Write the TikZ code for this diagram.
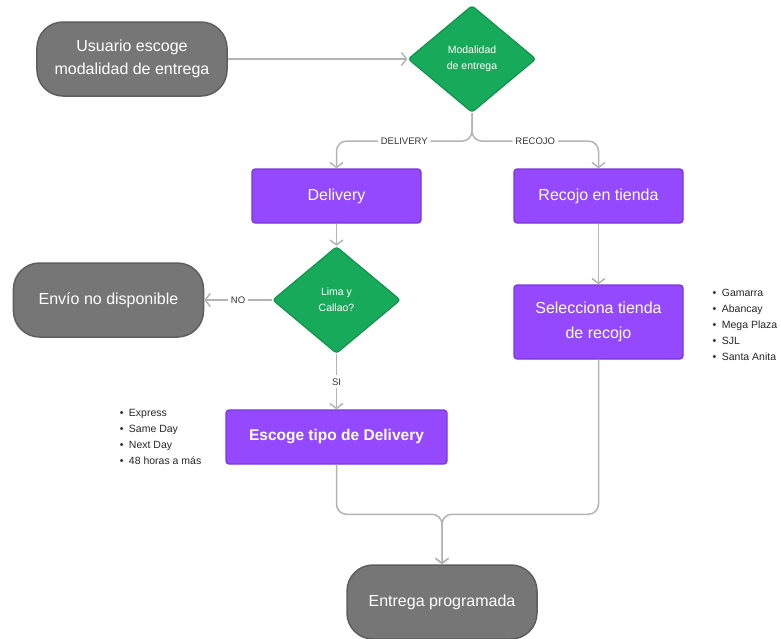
\documentclass[tikz,border=0pt]{standalone}
\usepackage{fontspec}
\setmainfont{Liberation Sans}
\usetikzlibrary{shapes.geometric, arrows.meta}
\definecolor{grisfondo}{HTML}{767676}
\definecolor{grisborde}{HTML}{5E5E5E}
\definecolor{verde}{HTML}{17AA5A}
\definecolor{verdeborde}{HTML}{12924C}
\definecolor{morado}{HTML}{9449FF}
\definecolor{moradoborde}{HTML}{7A36DC}
\definecolor{conector}{HTML}{B4B4B4}
\tikzstyle{terminal} = [rectangle, rounded corners=26pt, minimum width=190pt, minimum height=74pt, align=center, draw=grisborde, line width=1.5pt, fill=grisfondo, text=white, font=\fontsize{16}{23}\selectfont]
\tikzstyle{process} = [rectangle, rounded corners=3pt, minimum width=169pt, minimum height=54pt, align=center, draw=moradoborde, line width=1.2pt, fill=morado, text=white, font=\fontsize{16}{25}\selectfont]
\tikzstyle{decision} = [diamond, rounded corners=3pt, minimum width=128pt, minimum height=107pt, inner sep=0pt, align=center, draw=verdeborde, line width=1.2pt, fill=verde, text=white, font=\fontsize{10.5}{16}\selectfont]
\tikzstyle{arrow} = [line width=1.5pt, draw=conector, -{Straight Barb[length=5pt, width=13pt]}]
\tikzstyle{rotulo} = [fill=white, inner sep=3pt, text=black!80, font=\fontsize{9.5}{11}\selectfont]
\tikzstyle{lista} = [align=left, inner sep=0pt, text=black!85, font=\fontsize{10.5}{16}\selectfont]

\begin{document}
\begin{tikzpicture}[node distance=100pt]
\useasboundingbox (-132pt,59pt) rectangle (649pt,-579pt);

\node (term1) [terminal] {Usuario escoge\\modalidad de entrega};
\node (dec1) [decision, right of=term1, xshift=240pt] {Modalidad\\de entrega};
\node (pro1) [process, below of=dec1, yshift=-37pt, xshift=-135.5pt] {Delivery};
\node (pro2) [process, right of=pro1, xshift=162pt] {Recojo en tienda};
\node (dec2) [decision, below of=pro1, yshift=-4pt] {Lima y\\Callao?};
\node (term2) [terminal, left of=dec2, xshift=-128pt] {Envío no disponible};
\node (pro3) [process, below of=dec2, yshift=-37pt, minimum width=221pt, font=\bfseries\fontsize{15.5}{18}\selectfont] {Escoge tipo de Delivery};
\node (pro4) [process, below of=pro2, yshift=-26pt, minimum height=74pt] {Selecciona tienda\\de recojo};
\node (term3) [terminal, below of=pro3, yshift=-65pt, xshift=105.5pt] {Entrega programada};
\node (list1) [lista, left of=pro3, anchor=east, xshift=-35pt] {•\hspace{5.5pt}Express\\•\hspace{5.5pt}Same Day\\•\hspace{5.5pt}Next Day\\•\hspace{5.5pt}48 horas a más};
\node (list2) [lista, right of=pro4, anchor=west, xshift=14pt, yshift=-3pt] {•\hspace{5.5pt}Gamarra\\•\hspace{5.5pt}Abancay\\•\hspace{5.5pt}Mega Plaza\\•\hspace{5.5pt}SJL\\•\hspace{5.5pt}Santa Anita};
\coordinate (split1) at ([yshift=-28pt]dec1.south);
\coordinate (merge1) at ([yshift=50pt]term3.north);

\draw [arrow] (term1) -- (dec1);
\draw [arrow, rounded corners=10pt] (dec1.south) -- (split1) -| node[rotulo, pos=0.25] {DELIVERY} (pro1.north);
\draw [arrow, rounded corners=10pt] (dec1.south) -- (split1) -| node[rotulo, pos=0.25] {RECOJO} (pro2.north);
\draw [arrow] (pro1) -- (dec2);
\draw [arrow] (dec2) -- node[rotulo] {NO} (term2);
\draw [arrow] (dec2) -- node[rotulo] {SI} (pro3);
\draw [arrow] (pro2) -- (pro4);
\draw [arrow, rounded corners=10pt] (pro3.south) |- (merge1) -- (term3.north);
\draw [arrow, rounded corners=10pt] (pro4.south) |- (merge1) -- (term3.north);

\end{tikzpicture}
\end{document}
